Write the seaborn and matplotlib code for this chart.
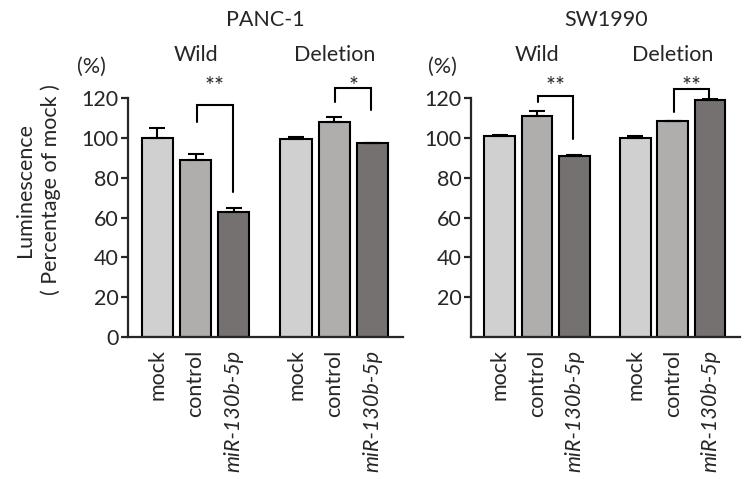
import matplotlib
matplotlib.use('Agg')
import matplotlib.pyplot as plt
import seaborn as sns
import pandas as pd

# ---------------- data ----------------
treatments = ['mock', 'control', 'miR-130b-5p']
constructs = ['Wild', 'Deletion']
panels = ['PANC-1', 'SW1990']

panc1_mean = [100.0, 89.0, 63.0, 99.5, 108.2, 97.5]
panc1_err = [5.0, 3.0, 1.8, 0.8, 2.5, 0.0]
sw1990_mean = [101.0, 111.0, 90.8, 100.0, 108.3, 119.0]
sw1990_err = [0.6, 2.7, 0.4, 1.0, 0.0, 1.0]

# significance brackets: (construct index, stars, top, left-leg bottom, right-leg bottom)
panc1_sig = [(0, '**', 116.6, 107.7, 73.0), (1, '*', 125.0, 118.0, 114.0)]
sw1990_sig = [(0, '**', 121.0, 118.0, 99.3), (1, '**', 124.4, 113.0, 120.0)]

# ---------------- style ----------------
sns.set_style('ticks')
plt.rcParams['font.family'] = ['Lato', 'DejaVu Sans']
plt.rcParams['axes.linewidth'] = 1.6

FS = 15.5
colors = {'mock': '#d1d0d1', 'control': '#b1adac', 'miR-130b-5p': '#76716f'}
group_gap = 3.63
W, H = 744, 479

fig = plt.figure(figsize=(W / 100, H / 100), dpi=100)
ax1 = fig.add_axes([128 / W, 1 - 337 / H, 275 / W, 239 / H])
ax2 = fig.add_axes([471 / W, 1 - 337 / H, 269 / W, 239 / H])


def draw(ax, means, errs, sig, show_zero):
    pos = [g * group_gap + i for g in range(len(constructs)) for i in range(len(treatments))]
    trt = [t for _ in constructs for t in treatments]
    df = pd.DataFrame({'pos': pos, 'value': means, 'treatment': trt})
    sns.barplot(data=df, x='pos', y='value', hue='treatment', native_scale=True,
                palette=colors, width=0.82, dodge=False, edgecolor='black',
                linewidth=1.5, errorbar=None, legend=False, ax=ax)
    ax.errorbar(pos, means, yerr=[[0] * len(errs), errs], fmt='none',
                ecolor='black', elinewidth=1.5, capsize=5.5, capthick=1.5, zorder=1)
    ax.set_ylim(0, 120)
    ax.set_xlim(-0.77, 2 * 1 + group_gap + 0.8)
    ax.set_yticks([0, 20, 40, 60, 80, 100, 120] if show_zero else [20, 40, 60, 80, 100, 120])
    ax.set_xticks(pos)
    ax.set_xticklabels(trt, rotation=90, fontsize=FS)
    for lbl in ax.get_xticklabels():
        if lbl.get_text().startswith('miR'):
            lbl.set_style('italic')
    ax.tick_params(axis='x', length=0, pad=9)
    ax.tick_params(axis='y', length=5, width=1.6, labelsize=FS, pad=2)
    ax.set_xlabel('')
    ax.set_ylabel('')
    sns.despine(ax=ax)
    ax.spines['left'].set_bounds(0, 120)
    for g, name in enumerate(constructs):
        ax.text(g * group_gap + 1, 141.5, name, ha='center', va='center', fontsize=FS, clip_on=False)
    for g, stars, top, lb, rb in sig:
        xl = g * group_gap + 1.03
        xr = g * group_gap + 1.97
        ax.plot([xl, xl, xr, xr], [lb, top, top, rb], color='black', lw=1.5,
                clip_on=False, solid_joinstyle='miter')
        ax.text((xl + xr) / 2, 126.0, stars, ha='center', va='center', fontsize=17, clip_on=False)


draw(ax1, panc1_mean, panc1_err, panc1_sig, True)
draw(ax2, sw1990_mean, sw1990_err, sw1990_sig, False)

fig.text(265 / W, 1 - 20 / H, panels[0], ha='center', va='center', fontsize=FS)
fig.text(606 / W, 1 - 20 / H, panels[1], ha='center', va='center', fontsize=FS)
fig.text(91 / W, 1 - 67 / H, '(%)', ha='center', va='center', fontsize=FS)
fig.text(442 / W, 1 - 67 / H, '(%)', ha='center', va='center', fontsize=FS)
fig.text(38 / W, 1 - 190 / H, 'Luminescence\n( Percentage of mock )', rotation=90,
         ha='center', va='center', multialignment='center', fontsize=FS, linespacing=1.3)

fig.savefig('out.png', dpi=100)
